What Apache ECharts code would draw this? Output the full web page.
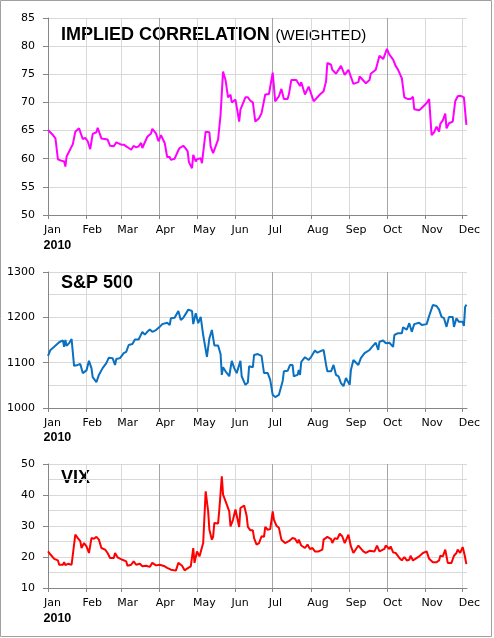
<!DOCTYPE html>
<html>
<head>
<meta charset="utf-8">
<script src="https://cdn.jsdelivr.net/npm/echarts@6/dist/echarts.min.js"></script>
<style>
  html, body { margin: 0; padding: 0; background: #fff; }
  #main { width: 494px; height: 638px; }
</style>
</head>
<body>
<div id="main"></div>
<script>
// month ticks, in days from 1 Jan 2010
var monthStarts = [0, 31, 59, 90, 120, 151, 181, 212, 243, 273, 304, 334];
var monthNames = ['Jan', 'Feb', 'Mar', 'Apr', 'May', 'Jun', 'Jul', 'Aug', 'Sep', 'Oct', 'Nov', 'Dec'];

// implied correlation (weighted)
var corrDays = [0, 4, 6, 8, 10, 13, 14, 15, 20, 22, 25, 28, 30, 32, 34, 36, 39, 40, 41, 43, 48, 50, 53, 55, 59, 61, 63, 65, 67, 69,
  71, 73, 75, 76, 80, 83, 84, 87, 89, 91, 94, 96, 98, 99, 102, 105, 106, 109, 111, 112.5, 113.5, 116, 117, 119, 120, 123, 124, 127, 130, 131,
  133, 135, 137, 139, 141, 143, 145, 147, 148, 151, 154, 155, 159, 161, 163, 165, 167, 170, 172, 175, 178, 181, 183, 186, 188, 190, 193, 194, 196, 200,
  203, 204, 207, 210, 214, 219, 222, 224, 225, 228, 229, 232, 236, 239, 242, 246, 250, 251, 256, 259, 260, 264, 267, 270, 273, 275, 278, 280, 282, 285,
  287, 290, 292, 294, 295, 299, 301, 305, 307, 309, 311, 313, 315, 316, 318, 320, 321, 323, 326, 328, 330, 332, 335, 337];
var corrValues = [65.1, 64.2, 63.6, 59.9, 59.7, 59.5, 58.6, 60.4, 62.6, 64.8, 65.4, 63.5, 63.7, 63.1, 61.7, 64.4, 64.7, 65.5, 65.7, 63.6, 63.4, 62.3, 62.2, 62.9, 62.5, 62.5, 62.2, 61.9, 61.6, 62.3,
  62.0, 62.2, 62.8, 61.9, 63.9, 64.5, 65.3, 64.5, 63.1, 64.2, 62.8, 60.3, 60.3, 59.8, 60.0, 61.5, 61.9, 62.3, 61.8, 61.3, 59.4, 58.3, 60.7, 59.5, 59.9, 60.1, 59.2, 64.8, 64.7, 62.2,
  61.0, 62.2, 63.4, 67.8, 75.5, 74.0, 70.9, 71.4, 70.0, 70.5, 66.6, 68.7, 70.9, 70.9, 70.3, 70.0, 66.6, 67.2, 68.1, 71.4, 71.5, 75.3, 70.2, 71.1, 72.4, 70.6, 70.6, 71.4, 74.0, 74.0,
  72.9, 73.6, 71.4, 72.8, 70.2, 71.4, 72.0, 73.8, 77.0, 76.7, 75.8, 75.1, 76.5, 74.9, 75.8, 73.3, 73.6, 74.6, 73.4, 74.0, 75.1, 75.8, 78.3, 77.7, 79.5, 78.5, 77.6, 76.5, 75.8, 74.3,
  70.9, 70.6, 70.6, 71.0, 68.8, 68.6, 69.0, 69.9, 70.6, 64.2, 64.7, 65.7, 64.8, 66.2, 66.8, 68.0, 65.4, 66.3, 66.6, 70.2, 71.1, 71.2, 70.9, 66.0];

// S&P 500
var spxDays = [0, 2, 5, 9, 12, 13, 14, 15, 17, 19, 21, 24, 26, 27, 28, 31, 33, 35, 36, 39, 41, 44, 47, 49, 52, 54, 55, 58, 61, 63,
  65, 68, 70, 73, 76, 78, 80, 82, 84, 87, 90, 92, 96, 98, 99, 102, 105, 107, 109, 113, 116, 117, 119, 121, 123, 125, 128, 130, 132, 134,
  137, 139, 140, 141, 143, 146, 148, 150, 152, 155, 156, 159, 161, 162, 165, 166, 169, 172, 174, 177, 179, 181, 183, 186, 189, 190, 193, 195, 197, 198,
  201, 202, 203, 204, 207, 210, 212, 215, 217, 220, 222, 224, 225, 228, 230, 232, 234, 236, 238, 240, 243, 244, 246, 250, 252, 255, 259, 261, 264, 266,
  267, 270, 272, 275, 278, 279, 282, 285, 286, 289, 291, 293, 295, 299, 301, 305, 307, 310, 313, 315, 317, 319, 321, 323, 326, 327, 329, 331, 334, 335, 336, 337];
var spxValues = [1115, 1128, 1135, 1145, 1149, 1135, 1150, 1137, 1143, 1152, 1093, 1095, 1097, 1095, 1077, 1083, 1104, 1088, 1068, 1057, 1073, 1088, 1099, 1111, 1110, 1095, 1108, 1110, 1121, 1124,
  1139, 1141, 1151, 1151, 1168, 1162, 1168, 1173, 1168, 1172, 1179, 1185, 1188, 1183, 1198, 1199, 1214, 1194, 1199, 1217, 1214, 1185, 1209, 1187, 1201, 1161, 1113, 1154, 1172, 1138,
  1138, 1119, 1073, 1090, 1081, 1070, 1104, 1088, 1077, 1104, 1070, 1051, 1056, 1092, 1090, 1117, 1119, 1115, 1077, 1077, 1062, 1029, 1024, 1029, 1059, 1081, 1082, 1095, 1095, 1070,
  1073, 1084, 1073, 1102, 1112, 1106, 1113, 1127, 1122, 1126, 1128, 1095, 1081, 1081, 1095, 1073, 1070, 1055, 1048, 1066, 1051, 1084, 1106, 1095, 1110, 1121, 1128, 1135, 1144, 1128,
  1146, 1149, 1143, 1144, 1135, 1161, 1165, 1165, 1178, 1173, 1187, 1168, 1185, 1188, 1183, 1185, 1203, 1227, 1225, 1217, 1201, 1198, 1179, 1201, 1201, 1179, 1198, 1190, 1190, 1181, 1223, 1228];

// VIX
var vixDays = [0, 2, 5, 8, 9, 12, 13, 14, 16, 19, 20, 22, 24, 26, 27, 29, 31, 33, 35, 37, 39, 41, 43, 46, 48, 50, 53, 54, 56, 60,
  63, 64, 67, 69, 71, 74, 76, 79, 82, 84, 87, 90, 94, 96, 99, 103, 105, 108, 110, 113, 115, 117, 118, 120, 122, 125, 127, 129, 130, 132,
  133, 134, 135, 137, 138, 140, 141, 143, 146, 147, 149, 151, 154, 155, 156, 158, 160, 161, 163, 165, 166, 168, 170, 172, 174, 175, 177, 179, 181, 182,
  184, 186, 188, 191, 194, 197, 199, 201, 202, 204, 207, 209, 211, 213, 215, 218, 221, 222, 225, 228, 229, 231, 233, 235, 237, 238, 239, 242, 244, 246,
  250, 254, 256, 259, 263, 265, 267, 271, 272, 275, 276, 278, 280, 283, 285, 287, 289, 291, 292, 294, 299, 302, 305, 307, 310, 313, 315, 316, 318, 320,
  321, 322, 325, 327, 329, 330, 332, 334, 335.5, 337];
var vixValues = [21.8, 20.8, 19.4, 18.9, 17.5, 17.5, 18.3, 17.4, 17.8, 17.5, 17.5, 27.2, 26.1, 25.1, 22.9, 24.5, 23.4, 21.3, 26.1, 25.9, 26.5, 25.6, 22.9, 22.4, 21.3, 19.7, 19.7, 21.3, 19.9, 19.1,
  18.6, 17.2, 17.5, 18.6, 17.5, 17.8, 17.0, 17.2, 16.8, 18.1, 17.3, 17.5, 17.0, 16.5, 15.9, 15.6, 18.1, 17.2, 15.7, 16.5, 17.0, 22.9, 18.1, 21.8, 20.2, 24.5, 41.2, 34.7, 28.8, 25.6,
  26.5, 31.0, 31.0, 30.8, 35.3, 46.0, 40.1, 38.0, 34.7, 29.9, 32.0, 35.3, 29.7, 35.8, 36.3, 36.6, 33.3, 29.7, 28.6, 28.6, 26.1, 24.0, 24.5, 26.7, 26.5, 29.7, 28.8, 29.0, 34.7, 32.0,
  30.1, 29.4, 25.6, 24.5, 25.1, 26.1, 25.9, 24.5, 25.6, 23.7, 22.9, 24.0, 22.6, 22.9, 21.8, 21.8, 22.4, 25.6, 26.5, 25.8, 24.5, 26.1, 25.8, 27.5, 26.7, 27.2, 24.5, 27.2, 23.4, 21.3,
  23.7, 21.8, 21.3, 22.0, 21.8, 23.7, 21.8, 22.6, 23.7, 22.6, 23.4, 21.5, 21.3, 19.7, 18.9, 20.0, 18.9, 19.1, 20.4, 18.9, 20.2, 21.3, 21.8, 19.4, 18.3, 18.3, 18.9, 20.4, 20.2, 22.4,
  21.8, 18.1, 18.1, 20.4, 21.3, 22.4, 21.3, 23.2, 20.8, 17.7];

function pairs(xs, ys) {
  return xs.map(function (x, i) { return [x, ys[i]]; });
}

var myChart = echarts.init(document.getElementById('main'), null, { renderer: 'canvas' });

var labelFont = 'DejaVu Sans';
var axisGray = '#868686';
var gridGray = '#d9d9d9';
var quarterGray = '#a6a6a6';

// same x axis for all three panels
function makeX(gridIndex) {
  return {
    type: 'value',
    gridIndex: gridIndex,
    min: 0,
    max: 337.5,
    axisLine: { show: true, onZero: false, lineStyle: { color: axisGray, width: 1 } },
    axisTick: { show: true, customValues: monthStarts, length: 4, lineStyle: { color: axisGray } },
    axisLabel: {
      customValues: monthStarts,
      color: '#000',
      fontFamily: labelFont,
      fontSize: 11,
      margin: 10,
      align: 'left',
      padding: [0, 0, 0, -4],
      formatter: function (v) {
        var i = monthStarts.indexOf(Math.round(v));
        return i >= 0 ? monthNames[i] : '';
      }
    },
    splitLine: { show: true, lineStyle: { color: [quarterGray, gridGray, gridGray], width: 1 } }
  };
}

function makeY(gridIndex, min, max, interval, minor) {
  return {
    type: 'value',
    gridIndex: gridIndex,
    min: min,
    max: max,
    interval: interval,
    axisLine: { show: true, lineStyle: { color: axisGray, width: 1 } },
    axisTick: { show: true, length: 5, lineStyle: { color: axisGray } },
    axisLabel: {
      color: '#000', fontFamily: labelFont, fontSize: 11, margin: 13,
      formatter: function (v) { return String(v); }
    },
    splitLine: { show: true, lineStyle: { color: gridGray, width: 1 } },
    minorTick: { show: false, splitNumber: 2 },
    minorSplitLine: { show: minor, lineStyle: { color: gridGray, width: 1 } }
  };
}

function makeLine(idx, data, color) {
  return {
    type: 'line',
    xAxisIndex: idx,
    yAxisIndex: idx,
    data: data,
    showSymbol: false,
    symbol: 'none',
    silent: true,
    lineStyle: { color: color, width: 2 },
    itemStyle: { color: color }
  };
}

var titleFont = 'Liberation Sans';

myChart.setOption({
  animation: false,
  grid: [
    { left: 48, top: 18, width: 419, height: 197, outerBoundsMode: 'none' },
    { left: 48, top: 272, width: 419, height: 136, outerBoundsMode: 'none' },
    { left: 48, top: 464, width: 419, height: 124, outerBoundsMode: 'none' }
  ],
  xAxis: [makeX(0), makeX(1), makeX(2)],
  yAxis: [
    makeY(0, 50, 85, 5, false),
    makeY(1, 1000, 1300, 100, true),
    makeY(2, 10, 50, 10, true)
  ],
  series: [
    makeLine(0, pairs(corrDays, corrValues), '#ff00ff'),
    makeLine(1, pairs(spxDays, spxValues), '#0a70c0'),
    makeLine(2, pairs(vixDays, vixValues), '#ff0000')
  ],
  graphic: [
    { type: 'rect', silent: true, shape: { x: 0.5, y: 0.5, width: 491, height: 636 },
      style: { fill: 'none', stroke: '#a0a0a0', lineWidth: 1 } },
    { type: 'text', silent: true, style: { x: 61, y: 34.7, text: 'IMPLIED CORRELATION', fill: '#000',
      font: 'bold 18px ' + titleFont, textVerticalAlign: 'middle' } },
    { type: 'text', silent: true, style: { x: 275.5, y: 35.5, text: '(WEIGHTED)', fill: '#000',
      font: '15px ' + titleFont, textVerticalAlign: 'middle' } },
    { type: 'text', silent: true, style: { x: 61, y: 283.5, text: 'S&P 500', fill: '#000',
      font: 'bold 18px ' + titleFont, textVerticalAlign: 'middle' } },
    { type: 'text', silent: true, style: { x: 61, y: 478, text: 'VIX', fill: '#000',
      font: 'bold 18px ' + titleFont, textVerticalAlign: 'middle' } },
    // year under the first month of each panel
    { type: 'text', silent: true, style: { x: 43.5, y: 245.5, text: '2010', fill: '#000',
      font: 'bold 12.5px ' + titleFont, textVerticalAlign: 'middle' } },
    { type: 'text', silent: true, style: { x: 43.5, y: 438, text: '2010', fill: '#000',
      font: 'bold 12.5px ' + titleFont, textVerticalAlign: 'middle' } },
    { type: 'text', silent: true, style: { x: 43.5, y: 618.7, text: '2010', fill: '#000',
      font: 'bold 12.5px ' + titleFont, textVerticalAlign: 'middle' } }
  ]
});
</script>
</body>
</html>
